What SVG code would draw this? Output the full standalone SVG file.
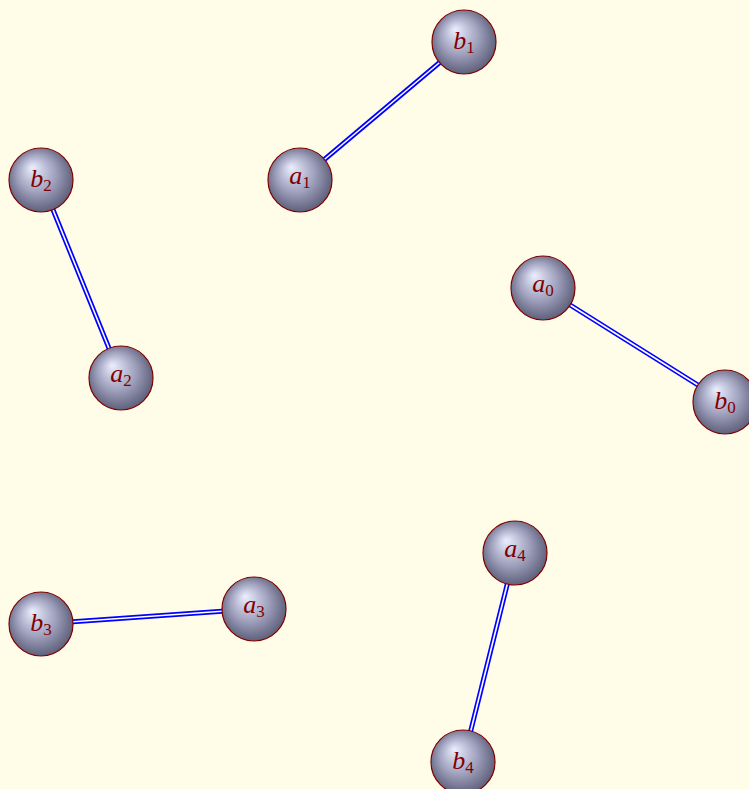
<svg xmlns="http://www.w3.org/2000/svg" width="749" height="789" viewBox="0 0 749 789">
<defs>
<radialGradient id="ball" cx="0.5" cy="0.5" r="0.62" fx="0.36" fy="0.3">
<stop offset="0" stop-color="#eceeff"/>
<stop offset="0.45" stop-color="#a4a6c2"/>
<stop offset="1" stop-color="#464862"/>
</radialGradient>
<style>
.n circle{fill:url(#ball);stroke:#800000;stroke-width:1.2}
.n text{font-family:"Liberation Serif","DejaVu Serif",serif;font-style:italic;font-size:26px;fill:#800000;text-anchor:middle}
.n tspan{font-size:17px;font-style:normal}
.o{stroke:#0000ff;stroke-width:5;fill:none}
.i{stroke:#ffffff;stroke-width:1.6;fill:none}
</style>
</defs>
<rect width="749" height="789" fill="#fffde8"/>
<g id="connectors">
<line class="o" x1="300" y1="180" x2="464" y2="42"/><line class="i" x1="300" y1="180" x2="464" y2="42"/>
<line class="o" x1="543" y1="288" x2="725" y2="402"/><line class="i" x1="543" y1="288" x2="725" y2="402"/>
<line class="o" x1="41" y1="180" x2="121" y2="378"/><line class="i" x1="41" y1="180" x2="121" y2="378"/>
<line class="o" x1="41" y1="624" x2="254" y2="609"/><line class="i" x1="41" y1="624" x2="254" y2="609"/>
<line class="o" x1="515" y1="553" x2="463" y2="762"/><line class="i" x1="515" y1="553" x2="463" y2="762"/>
</g>
<g id="b1" class="n"><circle cx="464" cy="42" r="32"/><text x="464" y="49">b<tspan dy="3.5">1</tspan></text></g>
<g id="a1" class="n"><circle cx="300" cy="180" r="32"/><text x="300" y="183.5">a<tspan dy="4.5">1</tspan></text></g>
<g id="a0" class="n"><circle cx="543" cy="288" r="32"/><text x="543" y="291.5">a<tspan dy="4.5">0</tspan></text></g>
<g id="b0" class="n"><circle cx="725" cy="402" r="32"/><text x="725" y="409">b<tspan dy="3.5">0</tspan></text></g>
<g id="b2" class="n"><circle cx="41" cy="180" r="32"/><text x="41" y="187">b<tspan dy="3.5">2</tspan></text></g>
<g id="a2" class="n"><circle cx="121" cy="378" r="32"/><text x="121" y="381.5">a<tspan dy="4.5">2</tspan></text></g>
<g id="a3" class="n"><circle cx="254" cy="609" r="32"/><text x="254" y="612.5">a<tspan dy="4.5">3</tspan></text></g>
<g id="b3" class="n"><circle cx="41" cy="624" r="32"/><text x="41" y="631">b<tspan dy="3.5">3</tspan></text></g>
<g id="a4" class="n"><circle cx="515" cy="553" r="32"/><text x="515" y="556.5">a<tspan dy="4.5">4</tspan></text></g>
<g id="b4" class="n"><circle cx="463" cy="762" r="32"/><text x="463" y="769">b<tspan dy="3.5">4</tspan></text></g>
</svg>
